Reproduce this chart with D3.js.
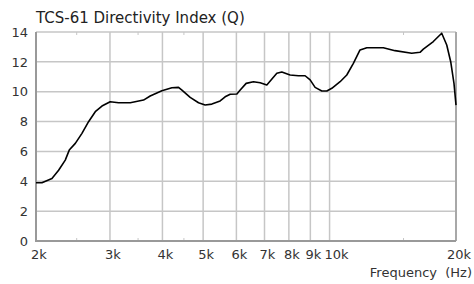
<!DOCTYPE html>
<html>
<head>
<meta charset="utf-8">
<script src="https://cdn.jsdelivr.net/npm/d3@7"></script>
<style>
  body { margin: 0; background: #fff; }
  svg { display: block; font-family: "DejaVu Sans", Verdana, sans-serif; }
</style>
</head>
<body>
<div id="chart"></div>
<script>
// directivity index curve
const freqs = [2000, 2066, 2183, 2264, 2348, 2400, 2481, 2573, 2668, 2768, 2871, 3004, 3145, 3353, 3606,
  3740, 3988, 4213, 4369, 4451, 4657, 4875, 5055, 5245, 5489, 5641, 5800, 6017, 6127, 6330, 6588, 6835,
  7089, 7489, 7697, 8054, 8430, 8745, 8989, 9238, 9583, 9850, 10124, 10594, 10990, 11394, 11817, 12265,
  13428, 14318, 15690, 16420, 16721, 17662, 18494, 19010, 19428, 19780, 20000];
const dIndex = [3.9, 3.9, 4.19, 4.74, 5.42, 6.09, 6.54, 7.21, 7.99, 8.66, 9.04, 9.33, 9.26, 9.26, 9.44,
  9.71, 10.07, 10.27, 10.29, 10.11, 9.62, 9.26, 9.11, 9.17, 9.38, 9.66, 9.83, 9.85, 10.11, 10.56, 10.67, 10.6,
  10.45, 11.23, 11.32, 11.12, 11.07, 11.07, 10.79, 10.29, 10.05, 10.05, 10.23, 10.67, 11.12, 11.9, 12.8, 12.95,
  12.95, 12.75, 12.58, 12.64, 12.85, 13.36, 13.92, 13.13, 12.01, 10.56, 9.1];

const xTicks = [2000, 3000, 4000, 5000, 6000, 7000, 8000, 9000, 10000, 20000];
const xTickLabels = ['2k', '3k', '4k', '5k', '6k', '7k', '8k', '9k', '10k', '20k'];
const minorTicks = [2500, 3500, 4500, 15000];
const yTicks = [0, 2, 4, 6, 8, 10, 12, 14];

const width = 474, height = 284;
const margin = { left: 36, right: 18, top: 32, bottom: 43 };

const svg = d3.select('#chart').append('svg')
  .attr('width', width)
  .attr('height', height);

const x = d3.scaleLog().domain([2000, 20000]).range([margin.left, width - margin.right]);
const y = d3.scaleLinear().domain([0, 14]).range([height - margin.bottom, margin.top]);

// grid
const grid = svg.append('g').attr('stroke', '#c6c6c6').attr('stroke-width', 1.5);
grid.selectAll('line.v')
  .data(xTicks.slice(1, -1))
  .join('line')
  .attr('class', 'v')
  .attr('x1', d => x(d)).attr('x2', d => x(d))
  .attr('y1', y(0)).attr('y2', y(14));
grid.selectAll('line.h')
  .data(yTicks.slice(1))
  .join('line')
  .attr('class', 'h')
  .attr('x1', x(2000)).attr('x2', x(20000))
  .attr('y1', d => y(d)).attr('y2', d => y(d));

// minor ticks on top and bottom
svg.append('g').attr('stroke', '#c6c6c6')
  .selectAll('line')
  .data(minorTicks.flatMap(f => [[f, 0, 1], [f, 14, -1]]))
  .join('line')
  .attr('x1', d => x(d[0])).attr('x2', d => x(d[0]))
  .attr('y1', d => y(d[1])).attr('y2', d => y(d[1]) - d[2] * 3);

// frame
svg.append('line')
  .attr('x1', x(20000)).attr('x2', x(20000))
  .attr('y1', y(0)).attr('y2', y(14))
  .attr('stroke', '#a8a8a8').attr('stroke-width', 2);
svg.append('path')
  .attr('d', `M${x(2000)},${y(14)}V${y(0)}H${x(20000)}`)
  .attr('fill', 'none')
  .attr('stroke', '#999').attr('stroke-width', 2);

// axes labels
svg.append('g')
  .selectAll('text')
  .data(yTicks)
  .join('text')
  .attr('x', margin.left - 8)
  .attr('y', d => y(d))
  .attr('dy', '0.36em')
  .attr('text-anchor', 'end')
  .attr('font-size', 13)
  .attr('fill', '#333')
  .text(d => d);

svg.append('g')
  .selectAll('text')
  .data(xTicks)
  .join('text')
  .attr('x', d => x(d) + (d === 10000 ? 7 : 3))
  .attr('y', y(0) + 18)
  .attr('text-anchor', 'middle')
  .attr('font-size', 13)
  .attr('fill', '#333')
  .text((d, i) => xTickLabels[i]);

svg.append('text')
  .attr('x', width - 2)
  .attr('y', y(0) + 36)
  .attr('text-anchor', 'end')
  .attr('font-size', 13)
  .attr('fill', '#333')
  .style('white-space', 'pre')
  .text('Frequency  (Hz)');

svg.append('text')
  .attr('x', margin.left)
  .attr('y', 23)
  .attr('font-size', 15)
  .attr('fill', '#222')
  .text('TCS-61 Directivity Index (Q)');

// curve
const line = d3.line()
  .x((d, i) => x(freqs[i]))
  .y(d => y(d));

svg.append('path')
  .datum(dIndex)
  .attr('fill', 'none')
  .attr('stroke', '#000')
  .attr('stroke-width', 1.6)
  .attr('stroke-linejoin', 'round')
  .attr('d', line);
</script>
</body>
</html>
